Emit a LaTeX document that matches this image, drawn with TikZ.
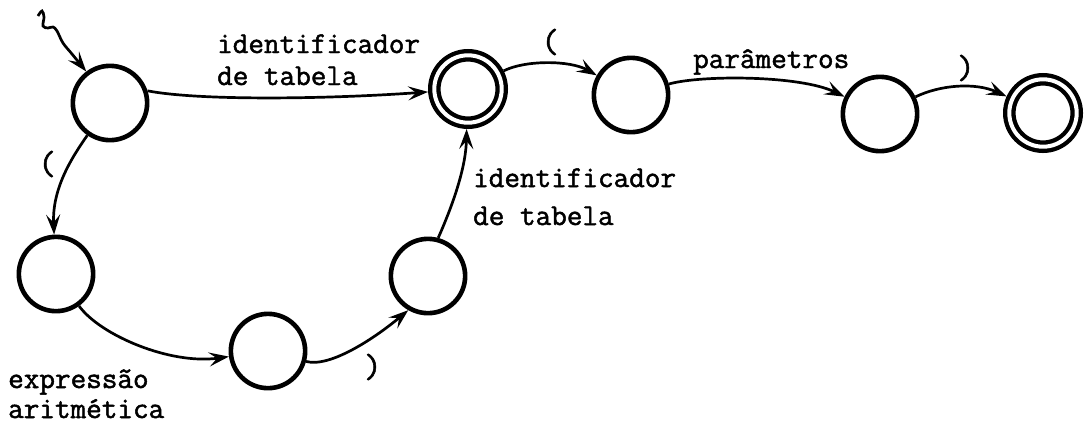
\documentclass[tikz,border=0pt]{standalone}
\usepackage{fontspec}
\newfontfamily\lblfont[FakeBold=1.6]{Latin Modern Mono}
\usetikzlibrary{arrows.meta}
\tikzset{
  state/.style={circle, draw, line width=4.6pt, minimum size=74.3pt, inner sep=0pt},
  accepting/.style={circle, draw, line width=4.3pt, double=white, double distance=4pt,
    minimum size=67.4pt, inner sep=0pt, outer sep=6.3pt},
  arr/.style={line width=2.7pt, -{Stealth[length=20pt,width=14pt,inset=8pt]}},
  lbl/.style={font=\lblfont\fontsize{30.3}{32}\selectfont, inner sep=0pt, align=left, anchor=base west},
  par/.style={font=\lblfont\fontsize{34}{36}\selectfont, inner sep=0pt}
}
\begin{document}
\begin{tikzpicture}[x=1pt,y=-1pt]
\useasboundingbox (0,0) rectangle (1091,424);
% states
\node[state] (A) at (110,103) {};
\node[accepting] (B) at (468,89) {};
\node[state] (C) at (631,95) {};
\node[state] (D) at (880,114) {};
\node[accepting] (E) at (1043,113) {};
\node[state] (F) at (56,274) {};
\node[state] (G) at (268,351) {};
\node[state] (H) at (428,276) {};
% start squiggle
\coordinate (s0) at (38,16);
\draw[arr] plot[smooth, tension=0.6] coordinates {(s0) (42,11) (44,17) (43,26) (48,28) (53,27) (57,31) (63,43) (72,54) (A.127)};
% transitions
\draw[arr] (A.18) .. controls (200,101) and (330,99) .. (B);
\draw[arr] (B) .. controls (525,60) and (570,60) .. (C);
\draw[arr] (C) .. controls (700,75) and (800,75) .. (D);
\draw[arr] (D) .. controls (940,85) and (975,82) .. (E);
\draw[arr] (A) .. controls (70,160) and (52,190) .. (F);
\draw[arr] (F) .. controls (100,335) and (170,365) .. (G);
\draw[arr] (G) .. controls (330,368) and (375,338) .. (H.240);
\draw[arr] (H.75) .. controls (455,200) and (466,165) .. (B.268);
% labels
\node[lbl] (l1) at (217,85) {identificador\\de tabela};
\node[lbl] (l2) at (473,225) {identificador\\[6pt]de tabela};
\node[lbl] (l3) at (8,418) {expressão\\[-2pt]aritmética};
\node[lbl] (l4) at (693,68) {parâmetros};
\node[par] (p1) at (47,164) {(};
\node[par] (p2) at (550,42) {(};
\node[par] (p3) at (966,68) {)};
\node[par] (p4) at (373,367) {)};
\end{tikzpicture}
\end{document}
